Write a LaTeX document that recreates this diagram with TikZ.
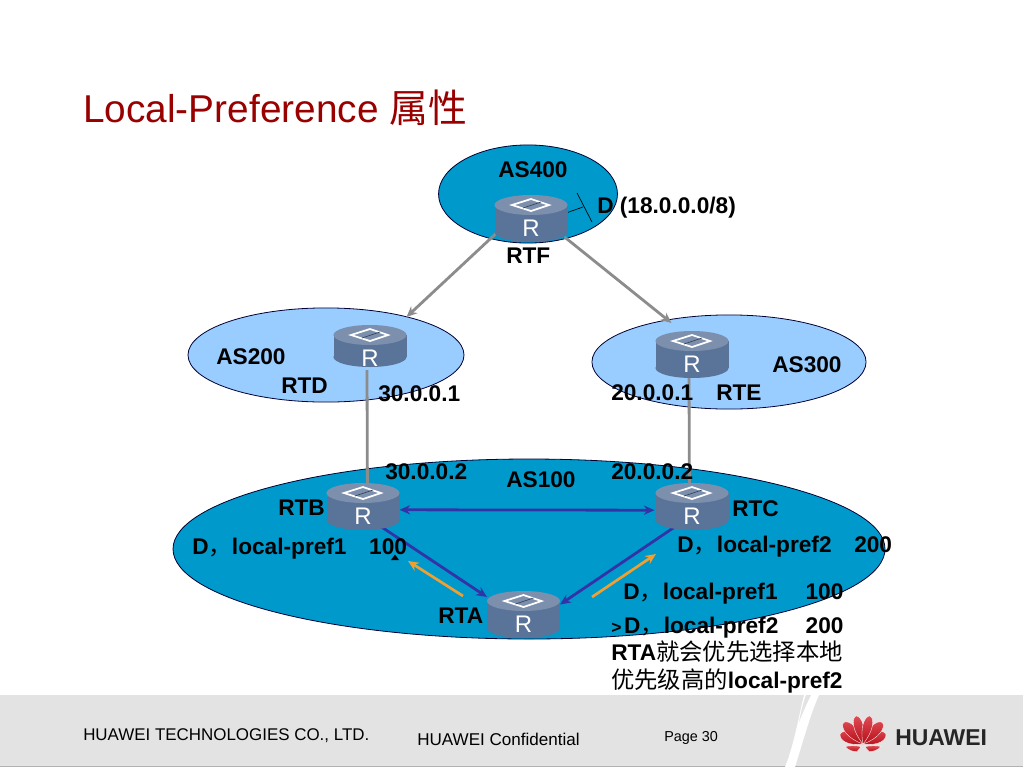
\documentclass[tikz,border=0pt]{standalone}
\usepackage{fontspec}
\setmainfont{Liberation Sans}
\newfontfamily\cjk{Noto Sans CJK SC}
\newcommand{\cjkm}{\fontsize{17.5pt}{18pt}\selectfont\cjk\mdseries}
\usetikzlibrary{calc,arrows.meta}
\definecolor{titlered}{HTML}{990000}
\definecolor{deepas}{HTML}{0099CC}
\definecolor{paleas}{HTML}{99CCFF}
\definecolor{rtop}{HTML}{7C90AE}
\definecolor{rside}{HTML}{5A7398}
\definecolor{greyline}{HTML}{8C8C8C}
\definecolor{blueline}{HTML}{3333A8}
\definecolor{orangeline}{HTML}{F0A030}
\definecolor{band}{HTML}{E3E3E3}
\definecolor{hwred}{HTML}{D5101C}
\tikzset{
 x=0.75pt,y=-0.75pt,
 asdeep/.style={draw=black!80!blue,line width=0.6pt,fill=deepas},
 aspale/.style={draw=black!80!blue,line width=0.6pt,fill=paleas},
 routerbox/.style={rectangle,minimum width=54.75pt,minimum height=35.25pt,inner sep=0pt,outer sep=0pt},
 lab/.style={anchor=west,inner sep=0pt,font=\fontsize{17pt}{18pt}\selectfont\bfseries},
 foot/.style={anchor=west,inner sep=0pt,text=black},
 greyarrow/.style={draw=greyline,line width=2.1pt,-{Stealth[length=8pt,width=7pt]}},
 greyplain/.style={draw=greyline,line width=2.1pt},
 bluearrow/.style={draw=blueline,line width=2.1pt},
 orangearrow/.style={draw=orangeline,line width=2pt,-{Stealth[length=8pt,width=7pt]}},
 petal/.style={draw=white,line width=0.25pt,top color=hwred!75!white,bottom color=hwred!85!black},
}
% centre x, centre y of the top face, depth of the body
\newcommand{\routerart}[3]{%
 \fill[rside] (#1,#2+#3) ellipse[x radius=27.4pt,y radius=7.5pt];
 \fill[rside] (#1-36.5,#2) rectangle (#1+36.5,#2+#3);
 \fill[rtop] (#1,#2) ellipse[x radius=27.4pt,y radius=7.5pt];
 \draw[white,line width=1.3pt,line join=miter] (#1-19,#2) -- (#1,#2-6) -- (#1+18,#2) -- (#1,#2+6) -- cycle;
 \draw[rside!60!black,line width=0.5pt] (#1-8,#2+3) -- (#1+10,#2-3);
 \node[white,inner sep=0pt,font=\fontsize{18pt}{18pt}\selectfont] at (#1,#2+23) {R};
}
\begin{document}
\begin{tikzpicture}
\useasboundingbox (0,0) rectangle (1023,767);
\fill[white] (0,0) rectangle (1023,767);
% footer
\fill[band] (0,695) rectangle (1023,766);
\fill[black!30] (0,765.6) rectangle (1023,766.6);
\fill[white] (804,695) .. controls (799,715) and (794,745) .. (785,767) -- (795,767) .. controls (802,745) and (810,715) .. (819,695) -- cycle;
\fill[band] (806,695) -- (811,695) .. controls (807,703) and (803,712) .. (799,722) .. controls (801,712) and (803,703) .. cycle;
\node[foot,font=\fontsize{12.7pt}{14pt}\selectfont] (f1) at (83,736) {HUAWEI TECHNOLOGIES CO., LTD.};
\node[foot,font=\fontsize{12.8pt}{14pt}\selectfont] (f2) at (417,739) {HUAWEI Confidential};
\node[foot,font=\fontsize{10.8pt}{12pt}\selectfont] (f3) at (664,738) {Page 30};
% logo
\foreach \a/\l/\w in {66/25/8,-66/25/8,42/29/8,-42/29/8,14/29/7,-14/29/7}{
 \path[petal,rotate around={\a:(863,744)}] (863,744) .. controls (863-\w,744-\l*0.5) and (863-\w*0.8,744-\l*0.95) .. (863,744-\l) .. controls (863+\w*0.8,744-\l*0.95) and (863+\w,744-\l*0.5) .. (863,744) -- cycle;
}
\path[petal] (861,746.5) .. controls (855,745.5) and (850,745.5) .. (845,746.5) .. controls (848,750) and (853,752) .. (857,751.5) .. controls (859,750) and (860,748) .. cycle;
\path[petal] (865,746.5) .. controls (871,745.5) and (876,745.5) .. (881,746.5) .. controls (878,750) and (873,752) .. (869,751.5) .. controls (867,750) and (866,748) .. cycle;
\node[foot,font=\fontsize{17.2pt}{18pt}\selectfont\bfseries,text=black!85] (hw) at (895,738) {HUAWEI};
% title
\node[anchor=west,inner sep=0pt,text=titlered,font=\fontsize{29.1pt}{32pt}\selectfont] (title) at (83,108) {Local-Preference {\cjk 属性}};
% AS areas
\path[asdeep] (528,194) ellipse[x radius=67.1pt,y radius=36.8pt];
\path[aspale] (326,355) ellipse[x radius=103.5pt,y radius=35.3pt];
\path[aspale] (729,362) ellipse[x radius=102.8pt,y radius=35.3pt];
\path[asdeep] (529,549) ellipse[x radius=267pt,y radius=67.5pt];
% router anchors
\node[routerbox] (rtf) at (531,218.5) {};
\node[routerbox] (rtd) at (370,346.5) {};
\node[routerbox] (rte) at (692,354.5) {};
\node[routerbox] (rtb) at (363,506.5) {};
\node[routerbox] (rtc) at (692,506.5) {};
\node[routerbox] (rta) at (523.5,614.5) {};
% links
\draw[greyarrow] ($(rtf.south west)+(2,-9)$) -- ($(rtd.north east)+(0,-6)$);
\draw[greyarrow] ($(rtf.south east)+(-3,-5)$) -- ($(rte.north west)+(16,-8)$);
\draw[greyplain] ($(rtd.south)+(-3,0)$) -- ($(rtb.north)+(4.4,0)$);
\draw[greyplain] ($(rte.south)+(-3,0)$) -- ($(rtc.north)+(-2.6,0)$);
\draw[bluearrow,{Stealth[length=8pt,width=7pt]}-{Stealth[length=8pt,width=7pt]}] ($(rtb.east)+(0,3.3)$) -- ($(rtc.west)+(-1,3.7)$);
\draw[bluearrow,-{Stealth[length=8pt,width=7pt]}] ($(rtb.south)+(8,-10)$) -- ($(rta.north west)+(0,6)$);
\draw[bluearrow,-{Stealth[length=8pt,width=7pt]}] ($(rtc.south)+(-10,-8)$) -- ($(rta.east)+(0,-10)$);
\coordinate (o1s) at (463,596); \coordinate (o1e) at (408,561);
\coordinate (o2s) at (592,597); \coordinate (o2e) at (656,554);
\draw[orangearrow] (o1s) -- (o1e);
\draw[orangearrow] (o2s) -- (o2e);
\fill[black] (391,560) -- (395,554.5) -- (399,560) -- cycle;
% route tie
\coordinate (d1) at (583,207); \coordinate (t1) at (577,193); \coordinate (t2) at (592,222);
\draw[black,line width=0.5pt] ($(rtf.east)+(0,-6)$) -- (d1);
\draw[black,line width=0.5pt] (t1) -- (t2);
% routers
\routerart{531}{205}{27}
\routerart{370}{335}{22}
\routerart{692}{341}{27}
\routerart{363}{493}{27}
\routerart{692}{493}{27}
\routerart{523.5}{601}{27}
% labels
\node[lab] (l1) at (498,170) {AS400};
\node[lab] (l2) at (597,208) {D (18.0.0.0/8)};
\node[lab] (l3) at (506,256) {RTF};
\node[lab] (l4) at (216,357) {AS200};
\node[lab] (l5) at (281,386) {RTD};
\node[lab] (l6) at (378,394) {30.0.0.1};
\node[lab] (l7) at (611,393) {20.0.0.1};
\node[lab] (l8) at (716,393) {RTE};
\node[lab] (l9) at (772,365) {AS300};
\node[lab] (l10) at (385,472) {30.0.0.2};
\node[lab] (l11) at (611,472) {20.0.0.2};
\node[lab] (l12) at (506,480) {AS100};
\node[lab] (l13) at (278,508) {RTB};
\node[lab] (l14) at (732,509) {RTC};
\node[lab] (l15) at (192,549) {D{\cjkm ，}local-pref1\hspace{17pt}100};
\node[lab] (l16) at (677,546.5) {D{\cjkm ，}local-pref2\hspace{17pt}200};
\node[lab] (l17) at (438,616) {RTA};
\node[lab] (l18) at (623,594) {D{\cjkm ，}local-pref1\hspace{21pt}100};
\node[lab] (l19) at (611,627.5) {{\fontsize{13pt}{14pt}\selectfont >}\hspace{2pt}D{\cjkm ，}local-pref2\hspace{20.5pt}200};
\node[lab] (l20) at (611,652) {RTA{\cjkm 就会优先选择本地}};
\node[lab] (l21) at (611,681) {{\cjkm 优先级高的}local-pref2};
\end{tikzpicture}
\end{document}
